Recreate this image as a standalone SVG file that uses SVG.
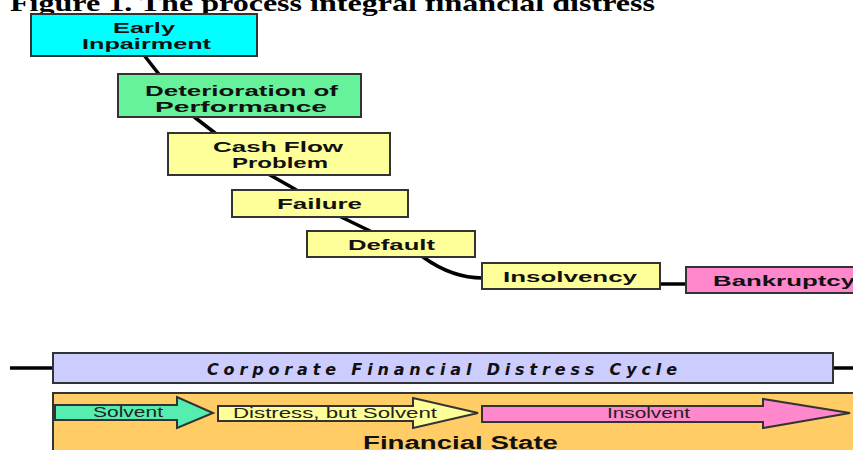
<svg xmlns="http://www.w3.org/2000/svg" width="853" height="450" viewBox="0 0 853 450">
<style>
.box{stroke:#333;stroke-width:2}
.lbl{font-family:"Liberation Sans",Arial,sans-serif;font-weight:bold;font-size:15px;fill:#111}
.reg{font-family:"Liberation Sans",Arial,sans-serif;font-size:15px;fill:#222}
.conn{fill:none;stroke:#000;stroke-width:3.5;stroke-linejoin:round}
</style>
<rect width="853" height="450" fill="#fff"/>
<text x="10" y="11" font-family="'Liberation Serif','Times New Roman',serif" font-weight="bold" font-size="24" fill="#000" textLength="645" lengthAdjust="spacingAndGlyphs">Figure 1. The process integral financial distress</text>
<g id="connectors">
<polyline class="conn" points="140,50 158,73 193,116 215,133 270,175 293,188 337,215 370,231 423,257"/>
<path class="conn" d="M423,257 Q452,278 483,278"/>
<line class="conn" x1="659" y1="284" x2="686" y2="284"/>
<line class="conn" x1="10" y1="368" x2="53" y2="368"/>
<line class="conn" x1="833" y1="368" x2="853" y2="368"/>
</g>
<g id="early">
<rect class="box" x="31" y="14" width="226" height="42" fill="#00FFFF"/>
<text class="lbl" x="113" y="33" textLength="62" lengthAdjust="spacingAndGlyphs">Early</text>
<text class="lbl" x="82" y="49" textLength="129" lengthAdjust="spacingAndGlyphs">Inpairment</text>
</g>
<g id="deterioration">
<rect class="box" x="118" y="74" width="243" height="43" fill="#66F29B"/>
<text class="lbl" x="145" y="96" textLength="193" lengthAdjust="spacingAndGlyphs">Deterioration of</text>
<text class="lbl" x="155" y="112" textLength="172" lengthAdjust="spacingAndGlyphs">Performance</text>
</g>
<g id="cashflow">
<rect class="box" x="168" y="133" width="222" height="42" fill="#FFFF99"/>
<text class="lbl" x="213" y="152" textLength="130" lengthAdjust="spacingAndGlyphs">Cash Flow</text>
<text class="lbl" x="232" y="168" textLength="96" lengthAdjust="spacingAndGlyphs">Problem</text>
</g>
<g id="failure">
<rect class="box" x="232" y="190" width="176" height="27" fill="#FFFF99"/>
<text class="lbl" x="277" y="209" textLength="85" lengthAdjust="spacingAndGlyphs">Failure</text>
</g>
<g id="default">
<rect class="box" x="307" y="231" width="168" height="26" fill="#FFFF99"/>
<text class="lbl" x="348" y="250" textLength="87" lengthAdjust="spacingAndGlyphs">Default</text>
</g>
<g id="insolvency">
<rect class="box" x="482" y="263" width="178" height="26" fill="#FFFF99"/>
<text class="lbl" x="503" y="282" textLength="134" lengthAdjust="spacingAndGlyphs">Insolvency</text>
</g>
<g id="bankruptcy">
<rect class="box" x="686" y="267" width="180" height="26" fill="#FF88CC"/>
<text class="lbl" x="713" y="286" textLength="142" lengthAdjust="spacingAndGlyphs">Bankruptcy</text>
</g>
<g id="cycle">
<rect class="box" x="53" y="353" width="780" height="30" fill="#CCCCFF"/>
<text x="207" y="375" font-family="'DejaVu Sans',Verdana,sans-serif" font-weight="bold" font-style="italic" font-size="16" fill="#111" textLength="470" lengthAdjust="spacing">Corporate Financial Distress Cycle</text>
</g>
<g id="state">
<rect class="box" x="53" y="393" width="810" height="70" fill="#FFCC66"/>
<path class="box" d="M55,405 H177 V397 L213,413 L177,428 V420 H55 Z" fill="#55EEB0"/>
<text class="reg" x="93" y="417" textLength="70" lengthAdjust="spacingAndGlyphs">Solvent</text>
<path class="box" d="M218,406 H413 V398 L478,413 L413,428 V421 H218 Z" fill="#FFFF99"/>
<text class="reg" x="233" y="418" textLength="204" lengthAdjust="spacingAndGlyphs">Distress, but Solvent</text>
<path class="box" d="M482,406 H763 V399 L850,413 L763,428 V422 H482 Z" fill="#FF88CC"/>
<text class="reg" x="607" y="418" textLength="83" lengthAdjust="spacingAndGlyphs">Insolvent</text>
<text x="363" y="449" font-family="'Liberation Sans',Arial,sans-serif" font-weight="bold" font-size="18" fill="#111" textLength="195" lengthAdjust="spacingAndGlyphs">Financial State</text>
</g>
</svg>
